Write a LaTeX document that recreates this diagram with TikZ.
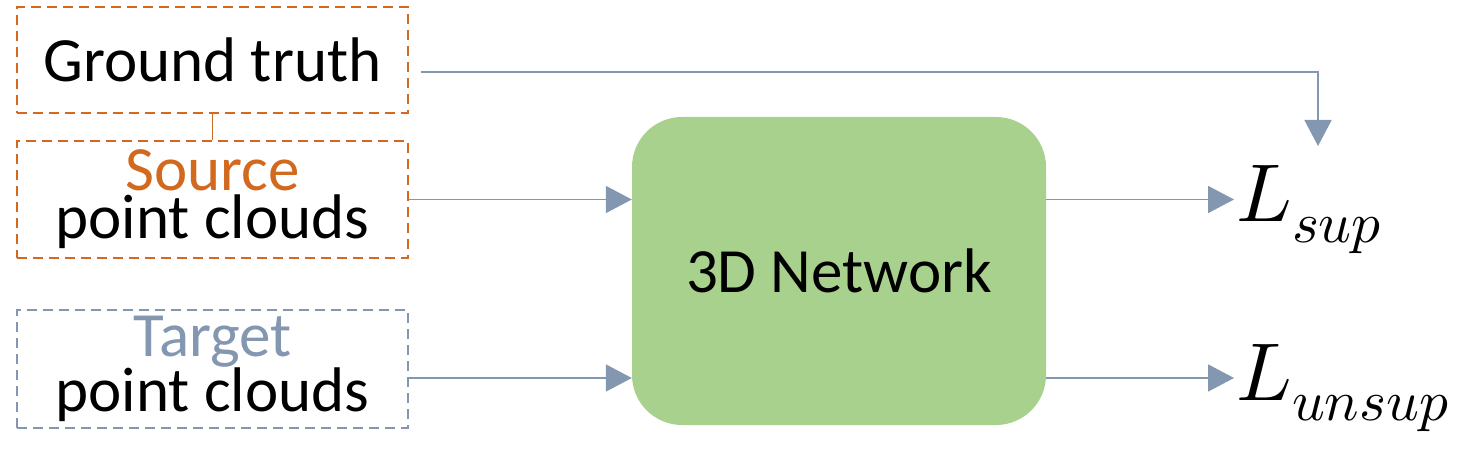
\documentclass[tikz,border=0pt]{standalone}
\usepackage{fontspec}
\setmainfont{Carlito}
\usepackage{unicode-math}
\setmathfont{Latin Modern Math}
\usetikzlibrary{arrows.meta,positioning}

\definecolor{srcorange}{HTML}{D2691E}
\definecolor{tgtblue}{HTML}{8497B0}
\definecolor{netgreen}{HTML}{A9D18E}

\begin{document}
\begin{tikzpicture}[x=1pt,y=-1pt,
    inbox/.style={draw, dashed, dash pattern=on 10pt off 6pt, line width=2.2pt,
        minimum width=391pt, align=center, inner sep=0pt,
        font=\fontsize{63}{48}\selectfont},
    arr/.style={draw=tgtblue, line width=1.8pt,
        -{Triangle[length=26pt,width=27pt]}, tgtblue},
    loss/.style={anchor=base west, inner sep=2pt,
        font=\fontsize{82}{84}\selectfont}]
    \useasboundingbox (0,0) rectangle (1484,465);

    % Inputs
    \node[inbox, draw=srcorange, minimum height=106pt] (gt) at (212.5,60) {Ground truth};
    \node[inbox, draw=srcorange, minimum height=117pt] (src) at (212.5,199.5)
        {\textcolor{srcorange}{Source}\\point clouds};
    \node[inbox, draw=tgtblue, minimum height=118pt] (tgt) at (212.5,369)
        {\textcolor{tgtblue}{Target}\\point clouds};
    \draw[srcorange, line width=1.5pt] (gt.south) -- (src.north);

    % Network
    \node[fill=netgreen, rounded corners=50pt, minimum width=414pt, minimum height=308pt,
        font=\fontsize{63}{63}\selectfont] (net) at (839,271) {3D Network};

    % Losses
    \node[loss] (lsup) at (1234,222) {$L_{sup}$};
    \node[loss] (lunsup) at (1234,400) {$L_{unsup}$};
    \coordinate (gthead) at (1318,146);

    % Connectors
    \draw[arr] (src.east) -- (src.east -| net.west);
    \draw[arr] ([yshift=-9pt]tgt.east) -- ([yshift=-9pt]tgt.east -| net.west);
    \draw[arr] (net.east |- src.east) -- (lsup.west |- src.east);
    \draw[arr] (net.east |- 0,378) -- (lunsup.west |- 0,378);
    \draw[arr] ([xshift=12pt,yshift=-12pt]gt.east) -| (gthead);
\end{tikzpicture}
\end{document}
